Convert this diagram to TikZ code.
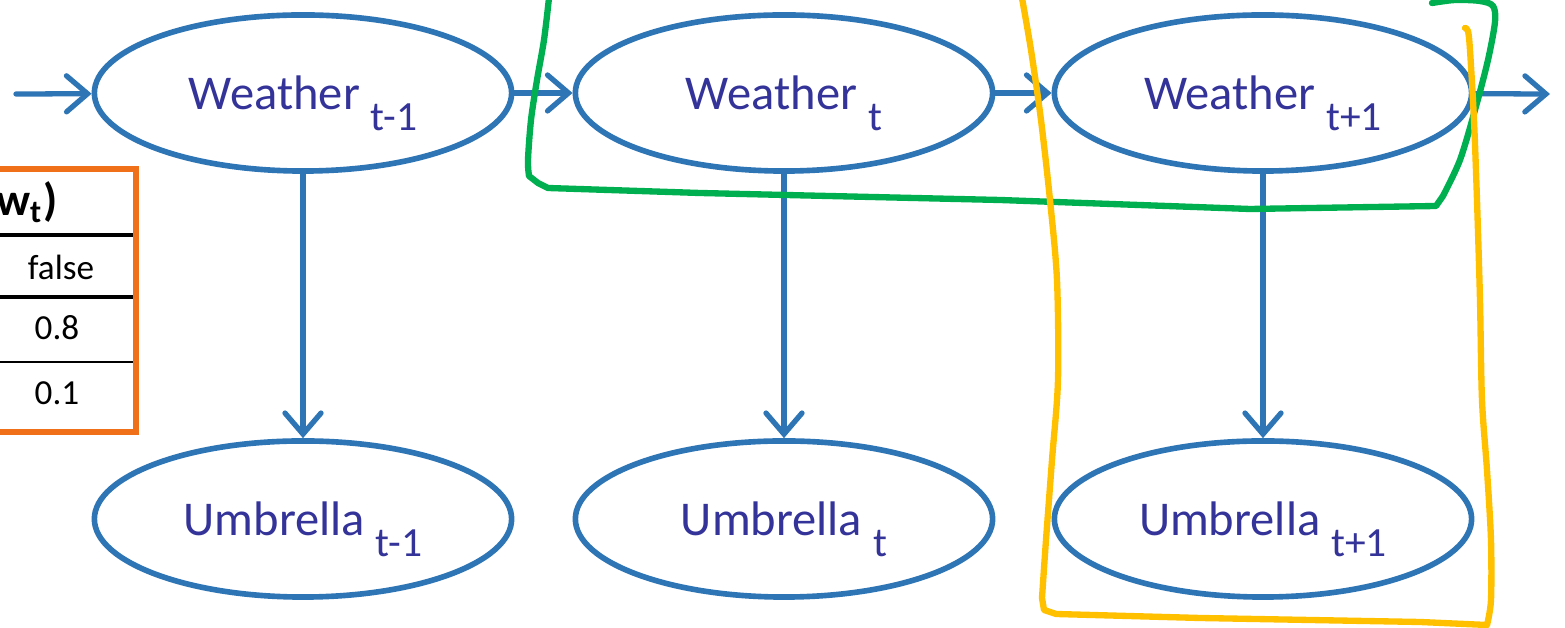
\documentclass[tikz,border=0pt]{standalone}
\usepackage{fontspec}
\setmainfont{Carlito}
\usetikzlibrary{shapes.geometric,arrows.meta}
\definecolor{nodeblue}{HTML}{2E75B6}
\definecolor{textblue}{HTML}{333399}
\definecolor{cptorange}{HTML}{F0701A}
\definecolor{pengreen}{HTML}{00B050}
\definecolor{penyellow}{HTML}{FFC000}
\newcommand{\tsub}[1]{\raisebox{-0.42em}{\fontsize{11.8}{12}\selectfont #1}}
\begin{document}
\begin{tikzpicture}[x=0.01cm,y=-0.01cm,
    varnode/.style={ellipse, draw=nodeblue, line width=1.6pt, minimum width=4.17cm, minimum height=1.56cm, inner sep=0pt, text=textblue, text depth=0pt, font=\fontsize{13.8}{15}\selectfont},
    arr/.style={draw=nodeblue, line width=1.5pt, line cap=round, -{Straight Barb[length=0.21cm,width=0.36cm,line cap=round]}},
    pen/.style={line width=1.8pt, line cap=round, line join=round},
    cell/.style={font=\fontsize{10}{11}\selectfont, inner sep=0pt}]
  \useasboundingbox (0,0) rectangle (1565,628);
  \clip (0,0) rectangle (1565,628);
  \node[varnode] (w1) at (303,93) {Weather \tsub{t-1}};
  \node[varnode] (w2) at (784,93) {Weather \tsub{t}};
  \node[varnode] (w3) at (1263,93) {Weather \tsub{t+1}};
  \node[varnode] (u1) at (303,519) {Umbrella \tsub{t-1}};
  \node[varnode] (u2) at (784,519) {Umbrella \tsub{t}};
  \node[varnode] (u3) at (1263,519) {Umbrella \tsub{t+1}};
  \coordinate (in) at (16,94);
  \coordinate (out) at (1550,94);
  \draw[arr] (in) -- (w1);
  \draw[arr] (w1) -- (w2);
  \draw[arr] (w2) -- (w3);
  \draw[arr] (w3) -- (out);
  \draw[arr] (w1) -- (u1);
  \draw[arr] (w2) -- (u2);
  \draw[arr] (w3) -- (u3);
  % table on the left
  \draw[cptorange, line width=1.6pt] (-20,169) rectangle (136,432);
  \draw[line width=1.3pt] (0,235) -- (133,235);
  \draw[line width=1.3pt] (0,297) -- (133,297);
  \draw[line width=0.6pt] (0,362) -- (133,362);
  \node[cell, anchor=base east, font=\fontsize{13}{14}\selectfont\bfseries] (head) at (58,216) {w\textsubscript{t})};
  \node[cell] (vfalse) at (61,267) {false};
  \node[cell] (v08) at (57,328) {0.8};
  \node[cell] (v01) at (57,393) {0.1};
  % hand-drawn marks
  \draw[pen, pengreen] plot[smooth, tension=0.5] coordinates {(549,-2) (544,40) (537,80) (531,120) (528,160) (529,176)}
    -- (538,183) -- (548,188) -- (700,193) -- (1000,200) -- (1250,209) -- (1436,206) -- (1443,196)
    plot[smooth, tension=0.5] coordinates {(1443,196) (1460,160) (1475,110) (1488,60) (1495,22) (1493,6) (1480,1) (1455,0) (1432,3)};
  \draw[pen, penyellow] plot[smooth, tension=0.5] coordinates {(1022,-2) (1031,50) (1041,120) (1050,200) (1057,280) (1058,380) (1052,460) (1046,540) (1042,598)}
    -- (1044,610) -- (1056,614) -- (1200,618) -- (1420,622) -- (1487,625)
    plot[smooth, tension=0.5] coordinates {(1487,625) (1491,600) (1491,540) (1487,470) (1482,400) (1480,300) (1477,200) (1474,120) (1470,50) (1468,31) (1465,28)};
\end{tikzpicture}
\end{document}
